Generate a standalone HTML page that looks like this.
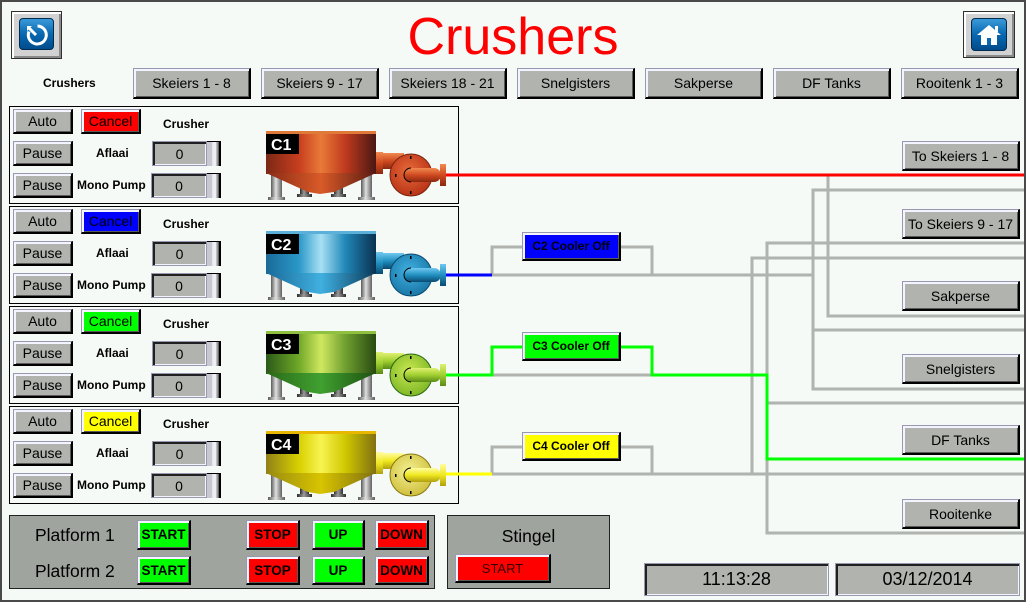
<!DOCTYPE html>
<html><head><meta charset="utf-8"><style>
*{margin:0;padding:0}
body{width:1026px;height:602px;overflow:hidden;background:#f5faf6;position:relative;font-family:"Liberation Sans",sans-serif}
.frame{position:absolute;left:0;top:0;width:1026px;height:602px;box-sizing:border-box;border:2px solid #4a4a4a;z-index:20;pointer-events:none}
.b{position:absolute;box-sizing:border-box;display:flex;align-items:center;justify-content:center;font-family:"Liberation Sans",sans-serif;font-size:14px;color:#000;background:#b0b3ae;border-style:solid;border-width:1px 2px 2px 1px;border-color:#9898b0 #000 #000 #9898b0;box-shadow:inset 2px 2px 0 #f4f4ff,inset -1px -1px 0 #5a5a5a;white-space:nowrap;z-index:5}
.in{position:absolute;box-sizing:border-box;display:flex;align-items:center;justify-content:center;font-size:14px;background:#b0b3ae;border:1px solid #9898b0;box-shadow:inset 2px 2px 0 #202020,inset -1px -1px 0 #f4f4ff;z-index:5}
.sl{position:absolute;box-sizing:border-box;width:14px;background:linear-gradient(90deg,#c8c8d0 0,#c8c8d0 35%,#eeeef6 40%,#eeeef6 65%,#9a9a9a 70%,#9a9a9a 82%,#000 85%);border-top:1px solid #000;z-index:5}
.lb{position:absolute;font-weight:bold;font-size:12px;line-height:14px;white-space:nowrap;z-index:5}
.panel{position:absolute;left:9px;width:450px;height:98px;box-sizing:border-box;border:1px solid #000;z-index:1}
.bold{font-weight:bold;font-size:13.5px}
.gp{position:absolute;background:#a0a49f;border:1px solid #222;box-sizing:border-box;z-index:2}
.cool{font-weight:bold;font-size:12px}
</style></head><body>
<div class="frame"></div>

<!-- title -->
<div style="position:absolute;top:11px;left:0;width:1026px;text-align:center;font-size:52px;line-height:52px;color:#ff0000;z-index:5">Crushers</div>

<!-- back button -->
<div style="position:absolute;left:11px;top:11px;width:51px;height:48px;box-sizing:border-box;background:#d2d2d2;border:1px solid #303030;box-shadow:inset 2px 2px 0 #fff,inset -2px -2px 0 #8a8a8a;z-index:5">
 <div style="position:absolute;left:7px;top:6px;width:35px;height:32px;box-sizing:border-box;border-radius:4px;background:linear-gradient(#3a9ad8,#0868b0 50%,#004c8c);border:1px solid #002a50">
  <svg width="33" height="30" style="position:absolute;left:0;top:0"><path d="M17.5 7 A9 9 0 1 1 9 12.5" fill="none" stroke="#fff" stroke-width="3"/><path d="M8.5 8.5 L16 16" stroke="#fff" stroke-width="3"/><path d="M7 7 L12 7 L7 12 Z" fill="#fff"/></svg>
 </div>
</div>
<!-- home button -->
<div style="position:absolute;left:963px;top:11px;width:52px;height:47px;box-sizing:border-box;background:#d2d2d2;border:1px solid #303030;box-shadow:inset 2px 2px 0 #fff,inset -2px -2px 0 #8a8a8a;z-index:5">
 <div style="position:absolute;left:7px;top:6px;width:36px;height:33px;box-sizing:border-box;border-radius:4px;background:linear-gradient(#3a9ad8,#0868b0 50%,#004c8c);border:1px solid #002a50">
  <svg width="34" height="31" style="position:absolute;left:0;top:0"><polygon points="17,6 5,16 29,16" fill="#fff"/><rect x="23" y="7" width="3" height="6" fill="#fff"/><rect x="9" y="15" width="16" height="11" fill="#fff"/><rect x="15" y="19" width="4" height="7" fill="#0868b0"/></svg>
 </div>
</div>

<!-- nav row -->
<div class="lb" style="left:43px;top:76px">Crushers</div>
<div class="b" style="left:133px;top:68px;width:118px;height:31px">Skeiers 1 - 8</div>
<div class="b" style="left:261px;top:68px;width:118px;height:31px">Skeiers 9 - 17</div>
<div class="b" style="left:389px;top:68px;width:118px;height:31px">Skeiers 18 - 21</div>
<div class="b" style="left:517px;top:68px;width:118px;height:31px">Snelgisters</div>
<div class="b" style="left:645px;top:68px;width:118px;height:31px">Sakperse</div>
<div class="b" style="left:773px;top:68px;width:118px;height:31px">DF Tanks</div>
<div class="b" style="left:901px;top:68px;width:118px;height:31px">Rooitenk 1 - 3</div>

<!-- graphics -->
<svg width="1026" height="602" style="position:absolute;left:0;top:0;z-index:3">
<defs>
 <linearGradient id="leg" x1="0" x2="1" y1="0" y2="0"><stop offset="0" stop-color="#5a5a5a"/><stop offset=".45" stop-color="#e0e0e0"/><stop offset="1" stop-color="#606060"/></linearGradient>
 <linearGradient id="leg2" x1="0" x2="1" y1="0" y2="0"><stop offset="0" stop-color="#2a2a2a"/><stop offset=".45" stop-color="#9a9a9a"/><stop offset="1" stop-color="#303030"/></linearGradient>
 <linearGradient id="body1" x1="0" x2="1"><stop offset="0" stop-color="#7a2816"/><stop offset=".3" stop-color="#c83e1e"/><stop offset=".5" stop-color="#e87a38"/><stop offset=".72" stop-color="#c03a1e"/><stop offset="1" stop-color="#4a1812"/></linearGradient>
 <linearGradient id="cone1" x1="0" x2="1"><stop offset="0" stop-color="#8a2a16"/><stop offset=".5" stop-color="#d85a28"/><stop offset="1" stop-color="#5a1a12"/></linearGradient>
 <linearGradient id="pipe1" x1="0" x2="0" y1="0" y2="1"><stop offset="0" stop-color="#f08a50"/><stop offset=".5" stop-color="#d04a20"/><stop offset="1" stop-color="#8a2810"/></linearGradient>
 <radialGradient id="pump1" cx=".45" cy=".4" r=".6"><stop offset="0" stop-color="#e86a38"/><stop offset="1" stop-color="#b83418"/></radialGradient>
 <linearGradient id="body2" x1="0" x2="1"><stop offset="0" stop-color="#1a6a98"/><stop offset=".3" stop-color="#2a98c8"/><stop offset=".5" stop-color="#a8e0f4"/><stop offset=".72" stop-color="#2088b8"/><stop offset="1" stop-color="#0a3050"/></linearGradient>
 <linearGradient id="cone2" x1="0" x2="1"><stop offset="0" stop-color="#1a6a98"/><stop offset=".5" stop-color="#40b0e0"/><stop offset="1" stop-color="#0a3a5a"/></linearGradient>
 <linearGradient id="pipe2" x1="0" x2="0" y1="0" y2="1"><stop offset="0" stop-color="#70c8f0"/><stop offset=".5" stop-color="#2090c0"/><stop offset="1" stop-color="#0a4a70"/></linearGradient>
 <radialGradient id="pump2" cx=".45" cy=".4" r=".6"><stop offset="0" stop-color="#40b0e0"/><stop offset="1" stop-color="#1a78a8"/></radialGradient>
 <linearGradient id="body3" x1="0" x2="1"><stop offset="0" stop-color="#2a5a18"/><stop offset=".3" stop-color="#70a828"/><stop offset=".5" stop-color="#d0e860"/><stop offset=".72" stop-color="#70a030"/><stop offset="1" stop-color="#284a10"/></linearGradient>
 <linearGradient id="cone3" x1="0" x2="1"><stop offset="0" stop-color="#2a6a18"/><stop offset=".5" stop-color="#40a030"/><stop offset="1" stop-color="#1e5010"/></linearGradient>
 <linearGradient id="pipe3" x1="0" x2="0" y1="0" y2="1"><stop offset="0" stop-color="#e0f070"/><stop offset=".5" stop-color="#a0d030"/><stop offset="1" stop-color="#5a8a18"/></linearGradient>
 <radialGradient id="pump3" cx=".45" cy=".4" r=".6"><stop offset="0" stop-color="#c8e850"/><stop offset="1" stop-color="#80b828"/></radialGradient>
 <linearGradient id="body4" x1="0" x2="1"><stop offset="0" stop-color="#908018"/><stop offset=".3" stop-color="#d8d000"/><stop offset=".5" stop-color="#f8f450"/><stop offset=".72" stop-color="#d0c800"/><stop offset="1" stop-color="#807010"/></linearGradient>
 <linearGradient id="cone4" x1="0" x2="1"><stop offset="0" stop-color="#988a10"/><stop offset=".5" stop-color="#d8c400"/><stop offset="1" stop-color="#807010"/></linearGradient>
 <linearGradient id="pipe4" x1="0" x2="0" y1="0" y2="1"><stop offset="0" stop-color="#fffca0"/><stop offset=".5" stop-color="#f0e820"/><stop offset="1" stop-color="#b0a010"/></linearGradient>
 <radialGradient id="pump4" cx=".45" cy=".4" r=".6"><stop offset="0" stop-color="#f4f090"/><stop offset="1" stop-color="#d0c040"/></radialGradient>
</defs>

<g fill="none" stroke="#b0b3ae" stroke-width="3">
 <path d="M828 175 V316 H1026"/>
 <path d="M1026 190 H813 V389 H1026"/>
 <path d="M813 330 H1026"/>
 <path d="M1026 243 H767 V533 H1026"/>
 <path d="M767 403 H1026"/>
 <path d="M1026 258 H752 V474"/>
 <path d="M492 275 H813"/>
 <path d="M492 275 V247 H522 M620 247 H652 V275"/>
 <path d="M492 375 H652"/>
 <path d="M492 474 H1026"/>
 <path d="M492 474 V447 H522 M620 447 H652 V474"/>
</g>
<g fill="none" stroke-width="3">
 <path d="M446 175 H1026" stroke="#ff0000"/>
 <path d="M446 275 H492" stroke="#0000ff"/>
 <path d="M446 375 H492 V347 H522 M620 347 H652 V375 H767 V459 H1026" stroke="#00ff00"/>
 <path d="M446 474 H492" stroke="#ffff00"/>
</g>

<g transform="translate(0,106)">
 <rect x="271" y="68" width="11" height="24" fill="url(#leg)"/><rect x="268" y="91" width="17" height="3" fill="url(#leg)"/>
 <rect x="361" y="68" width="11" height="24" fill="url(#leg)"/><rect x="358" y="91" width="17" height="3" fill="url(#leg)"/>
 <rect x="300" y="78" width="9" height="12" fill="url(#leg2)"/><rect x="297" y="88" width="15" height="3" fill="url(#leg2)"/>
 <rect x="334" y="78" width="9" height="12" fill="url(#leg2)"/><rect x="331" y="88" width="15" height="3" fill="url(#leg2)"/>
 <rect x="266" y="25" width="110" height="43" fill="url(#body1)"/>
 <rect x="266" y="25" width="110" height="3" fill="#e07a38"/>
 <polygon points="266,67 376,67 334,86 320,88 308,86" fill="url(#cone1)"/>
 <rect x="266" y="28" width="33" height="20" fill="#000"/><text x="271" y="44" font-family="Liberation Sans" font-weight="bold" font-size="16" fill="#fff">C1</text>
 <rect x="382" y="47" width="22" height="16" fill="url(#pipe1)"/>
 <rect x="376" y="46" width="7" height="22" fill="url(#pipe1)"/>
 <circle cx="411" cy="69" r="21" fill="url(#pump1)" stroke="#7a2410" stroke-width="1"/>
 <rect x="404" y="62" width="37" height="14" rx="7" fill="url(#pipe1)"/>
 <rect x="440" y="58" width="6" height="22" fill="url(#pipe1)"/>
 <path d="M411 62 A7 7 0 0 0 411 76" fill="none" stroke="#000"/>
 <rect x="410" y="50" width="1.5" height="3" fill="#000"/><rect x="410" y="85" width="1.5" height="3" fill="#000"/><rect x="395" y="68" width="1.5" height="3" fill="#000"/>
</g>
<g transform="translate(0,206)">
 <rect x="271" y="68" width="11" height="24" fill="url(#leg)"/><rect x="268" y="91" width="17" height="3" fill="url(#leg)"/>
 <rect x="361" y="68" width="11" height="24" fill="url(#leg)"/><rect x="358" y="91" width="17" height="3" fill="url(#leg)"/>
 <rect x="300" y="78" width="9" height="12" fill="url(#leg2)"/><rect x="297" y="88" width="15" height="3" fill="url(#leg2)"/>
 <rect x="334" y="78" width="9" height="12" fill="url(#leg2)"/><rect x="331" y="88" width="15" height="3" fill="url(#leg2)"/>
 <rect x="266" y="25" width="110" height="43" fill="url(#body2)"/>
 <rect x="266" y="25" width="110" height="3" fill="#5ab0d8"/>
 <polygon points="266,67 376,67 334,86 320,88 308,86" fill="url(#cone2)"/>
 <rect x="266" y="28" width="33" height="20" fill="#000"/><text x="271" y="44" font-family="Liberation Sans" font-weight="bold" font-size="16" fill="#fff">C2</text>
 <rect x="382" y="47" width="22" height="16" fill="url(#pipe2)"/>
 <rect x="376" y="46" width="7" height="22" fill="url(#pipe2)"/>
 <circle cx="411" cy="69" r="21" fill="url(#pump2)" stroke="#0a4a70" stroke-width="1"/>
 <rect x="404" y="62" width="37" height="14" rx="7" fill="url(#pipe2)"/>
 <rect x="440" y="58" width="6" height="22" fill="url(#pipe2)"/>
 <path d="M411 62 A7 7 0 0 0 411 76" fill="none" stroke="#000"/>
 <rect x="410" y="50" width="1.5" height="3" fill="#000"/><rect x="410" y="85" width="1.5" height="3" fill="#000"/><rect x="395" y="68" width="1.5" height="3" fill="#000"/>
</g>
<g transform="translate(0,306)">
 <rect x="271" y="68" width="11" height="24" fill="url(#leg)"/><rect x="268" y="91" width="17" height="3" fill="url(#leg)"/>
 <rect x="361" y="68" width="11" height="24" fill="url(#leg)"/><rect x="358" y="91" width="17" height="3" fill="url(#leg)"/>
 <rect x="300" y="78" width="9" height="12" fill="url(#leg2)"/><rect x="297" y="88" width="15" height="3" fill="url(#leg2)"/>
 <rect x="334" y="78" width="9" height="12" fill="url(#leg2)"/><rect x="331" y="88" width="15" height="3" fill="url(#leg2)"/>
 <rect x="266" y="25" width="110" height="43" fill="url(#body3)"/>
 <rect x="266" y="25" width="110" height="3" fill="#90c040"/>
 <polygon points="266,67 376,67 334,86 320,88 308,86" fill="url(#cone3)"/>
 <rect x="266" y="28" width="33" height="20" fill="#000"/><text x="271" y="44" font-family="Liberation Sans" font-weight="bold" font-size="16" fill="#fff">C3</text>
 <rect x="382" y="47" width="22" height="16" fill="url(#pipe3)"/>
 <rect x="376" y="46" width="7" height="22" fill="url(#pipe3)"/>
 <circle cx="411" cy="69" r="21" fill="url(#pump3)" stroke="#2a6a10" stroke-width="1"/>
 <rect x="404" y="62" width="37" height="14" rx="7" fill="url(#pipe3)"/>
 <rect x="440" y="58" width="6" height="22" fill="url(#pipe3)"/>
 <path d="M411 62 A7 7 0 0 0 411 76" fill="none" stroke="#000"/>
 <rect x="410" y="50" width="1.5" height="3" fill="#000"/><rect x="410" y="85" width="1.5" height="3" fill="#000"/><rect x="395" y="68" width="1.5" height="3" fill="#000"/>
</g>
<g transform="translate(0,406)">
 <rect x="271" y="68" width="11" height="24" fill="url(#leg)"/><rect x="268" y="91" width="17" height="3" fill="url(#leg)"/>
 <rect x="361" y="68" width="11" height="24" fill="url(#leg)"/><rect x="358" y="91" width="17" height="3" fill="url(#leg)"/>
 <rect x="300" y="78" width="9" height="12" fill="url(#leg2)"/><rect x="297" y="88" width="15" height="3" fill="url(#leg2)"/>
 <rect x="334" y="78" width="9" height="12" fill="url(#leg2)"/><rect x="331" y="88" width="15" height="3" fill="url(#leg2)"/>
 <rect x="266" y="25" width="110" height="43" fill="url(#body4)"/>
 <rect x="266" y="25" width="110" height="3" fill="#e8b800"/>
 <polygon points="266,67 376,67 334,86 320,88 308,86" fill="url(#cone4)"/>
 <rect x="266" y="28" width="33" height="20" fill="#000"/><text x="271" y="44" font-family="Liberation Sans" font-weight="bold" font-size="16" fill="#fff">C4</text>
 <rect x="382" y="47" width="22" height="16" fill="url(#pipe4)"/>
 <rect x="376" y="46" width="7" height="22" fill="url(#pipe4)"/>
 <circle cx="411" cy="69" r="21" fill="url(#pump4)" stroke="#8a7a10" stroke-width="1"/>
 <rect x="404" y="62" width="37" height="14" rx="7" fill="url(#pipe4)"/>
 <rect x="440" y="58" width="6" height="22" fill="url(#pipe4)"/>
 <path d="M411 62 A7 7 0 0 0 411 76" fill="none" stroke="#000"/>
 <rect x="410" y="50" width="1.5" height="3" fill="#000"/><rect x="410" y="85" width="1.5" height="3" fill="#000"/><rect x="395" y="68" width="1.5" height="3" fill="#000"/>
</g>
</svg>

<div class="panel" style="top:106px"></div>
<div class="panel" style="top:206px"></div>
<div class="panel" style="top:306px"></div>
<div class="panel" style="top:406px"></div>

<div class="b" style="left:13px;top:109px;width:60px;height:25px">Auto</div>
<div class="b" style="left:81px;top:109px;width:60px;height:25px;background:#ff0000">Cancel</div>
<div class="lb" style="left:163px;top:117px">Crusher</div>
<div class="b" style="left:13px;top:141px;width:60px;height:25px">Pause</div>
<div class="lb" style="left:96px;top:146px">Aflaai</div>
<div class="in" style="left:152px;top:141px;width:55px;height:25px">0</div>
<div class="sl" style="left:207px;top:141px;height:25px"></div>
<div class="b" style="left:13px;top:173px;width:60px;height:25px">Pause</div>
<div class="lb" style="left:77px;top:178px">Mono Pump</div>
<div class="in" style="left:151px;top:173px;width:56px;height:25px">0</div>
<div class="sl" style="left:207px;top:173px;height:25px"></div>

<div class="b" style="left:13px;top:209px;width:60px;height:25px">Auto</div>
<div class="b" style="left:81px;top:209px;width:60px;height:25px;background:#0000ff">Cancel</div>
<div class="lb" style="left:163px;top:217px">Crusher</div>
<div class="b" style="left:13px;top:241px;width:60px;height:25px">Pause</div>
<div class="lb" style="left:96px;top:246px">Aflaai</div>
<div class="in" style="left:152px;top:241px;width:55px;height:25px">0</div>
<div class="sl" style="left:207px;top:241px;height:25px"></div>
<div class="b" style="left:13px;top:273px;width:60px;height:25px">Pause</div>
<div class="lb" style="left:77px;top:278px">Mono Pump</div>
<div class="in" style="left:151px;top:273px;width:56px;height:25px">0</div>
<div class="sl" style="left:207px;top:273px;height:25px"></div>

<div class="b" style="left:13px;top:309px;width:60px;height:25px">Auto</div>
<div class="b" style="left:81px;top:309px;width:60px;height:25px;background:#00ff00">Cancel</div>
<div class="lb" style="left:163px;top:317px">Crusher</div>
<div class="b" style="left:13px;top:341px;width:60px;height:25px">Pause</div>
<div class="lb" style="left:96px;top:346px">Aflaai</div>
<div class="in" style="left:152px;top:341px;width:55px;height:25px">0</div>
<div class="sl" style="left:207px;top:341px;height:25px"></div>
<div class="b" style="left:13px;top:373px;width:60px;height:25px">Pause</div>
<div class="lb" style="left:77px;top:378px">Mono Pump</div>
<div class="in" style="left:151px;top:373px;width:56px;height:25px">0</div>
<div class="sl" style="left:207px;top:373px;height:25px"></div>

<div class="b" style="left:13px;top:409px;width:60px;height:25px">Auto</div>
<div class="b" style="left:81px;top:409px;width:60px;height:25px;background:#ffff00">Cancel</div>
<div class="lb" style="left:163px;top:417px">Crusher</div>
<div class="b" style="left:13px;top:441px;width:60px;height:25px">Pause</div>
<div class="lb" style="left:96px;top:446px">Aflaai</div>
<div class="in" style="left:152px;top:441px;width:55px;height:25px">0</div>
<div class="sl" style="left:207px;top:441px;height:25px"></div>
<div class="b" style="left:13px;top:473px;width:60px;height:25px">Pause</div>
<div class="lb" style="left:77px;top:478px">Mono Pump</div>
<div class="in" style="left:151px;top:473px;width:56px;height:25px">0</div>
<div class="sl" style="left:207px;top:473px;height:25px"></div>

<div class="b cool" style="left:522px;top:232px;width:99px;height:29px;background:#0000ff">C2 Cooler Off</div>
<div class="b cool" style="left:522px;top:332px;width:99px;height:29px;background:#00ff00">C3 Cooler Off</div>
<div class="b cool" style="left:522px;top:432px;width:99px;height:29px;background:#ffff00">C4 Cooler Off</div>

<div class="b" style="left:902px;top:141px;width:118px;height:30px">To Skeiers 1 - 8</div>
<div class="b" style="left:902px;top:209px;width:118px;height:30px">To Skeiers 9 - 17</div>
<div class="b" style="left:902px;top:281px;width:118px;height:30px">Sakperse</div>
<div class="b" style="left:902px;top:354px;width:118px;height:30px">Snelgisters</div>
<div class="b" style="left:902px;top:425px;width:118px;height:30px">DF Tanks</div>
<div class="b" style="left:902px;top:499px;width:118px;height:30px">Rooitenke</div>

<div class="gp" style="left:9px;top:515px;width:426px;height:74px"></div>
<div style="position:absolute;left:35px;top:525px;font-size:17.5px;line-height:20px;z-index:5">Platform 1</div>
<div style="position:absolute;left:35px;top:561px;font-size:17.5px;line-height:20px;z-index:5">Platform 2</div>
<div class="b bold" style="left:137px;top:520px;width:54px;height:30px;background:#00ff00">START</div>
<div class="b bold" style="left:137px;top:556px;width:54px;height:29px;background:#00ff00">START</div>
<div class="b bold" style="left:246px;top:520px;width:54px;height:30px;background:#ff0000">STOP</div>
<div class="b bold" style="left:246px;top:556px;width:54px;height:29px;background:#ff0000">STOP</div>
<div class="b bold" style="left:312px;top:520px;width:53px;height:30px;background:#00ff00">UP</div>
<div class="b bold" style="left:312px;top:556px;width:53px;height:29px;background:#00ff00">UP</div>
<div class="b bold" style="left:375px;top:520px;width:54px;height:30px;background:#ff0000">DOWN</div>
<div class="b bold" style="left:375px;top:556px;width:54px;height:29px;background:#ff0000">DOWN</div>

<div class="gp" style="left:447px;top:515px;width:163px;height:74px"></div>
<div style="position:absolute;left:447px;top:526px;width:163px;text-align:center;font-size:17.5px;line-height:20px;z-index:5">Stingel</div>
<div class="b" style="left:455px;top:554px;width:96px;height:29px;background:#ff0000;font-size:13px;color:#300">START</div>

<div class="in" style="left:644px;top:563px;width:185px;height:33px;font-size:18px">11:13:28</div>
<div class="in" style="left:835px;top:563px;width:185px;height:33px;font-size:18px">03/12/2014</div>
</body></html>
